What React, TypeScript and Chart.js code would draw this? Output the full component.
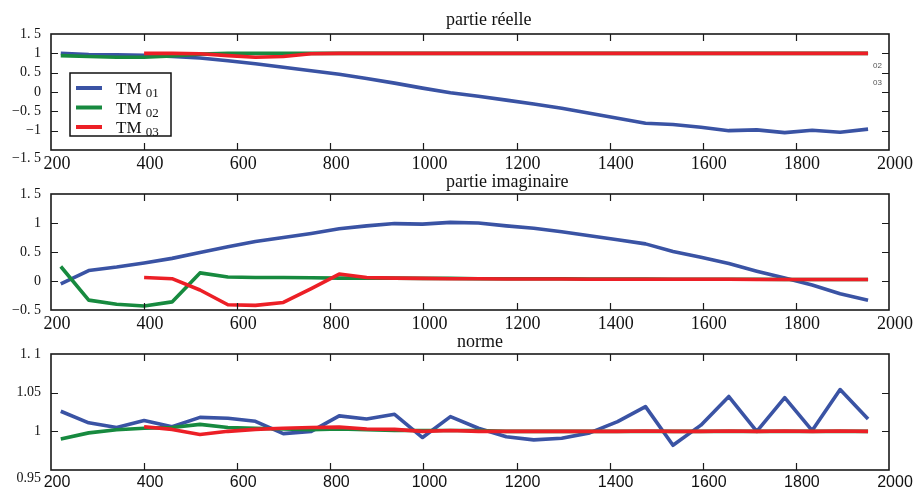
import React, { useEffect, useRef } from "react";
import { Chart, registerables } from "chart.js";
Chart.register(...registerables);

// ---------- data ----------
const X_VALUES = [221, 281, 341, 400, 460, 520, 580, 639, 699, 759, 819, 878, 938, 998, 1058, 1118, 1178, 1237, 1297, 1357, 1417, 1477, 1536, 1596, 1656, 1716, 1776, 1835, 1895, 1955];

const REAL_TM01 = [1.0, 0.97, 0.96, 0.95, 0.92, 0.88, 0.81, 0.73, 0.64, 0.55, 0.46, 0.35, 0.23, 0.1, -0.02, -0.11, -0.21, -0.31, -0.42, -0.55, -0.68, -0.81, -0.84, -0.91, -1.0, -0.98, -1.05, -0.99, -1.04, -0.96];
const REAL_TM02 = [0.94, 0.92, 0.9, 0.9, 0.93, 0.98, 1.0, 1.0, 1.0, 1.0, 1.0, 1.0, 1.0, 1.0, 1.0, 1.0, 1.0, 1.0, 1.0, 1.0, 1.0, 1.0, 1.0, 1.0, 1.0, 1.0, 1.0, 1.0, 1.0, 1.0];
const REAL_TM03 = [null, null, null, 1.0, 1.0, 0.99, 0.94, 0.9, 0.92, 0.99, 1.0, 1.0, 1.0, 1.0, 1.0, 1.0, 1.0, 1.0, 1.0, 1.0, 1.0, 1.0, 1.0, 1.0, 1.0, 1.0, 1.0, 1.0, 1.0, 1.0];

const IMAG_TM01 = [-0.05, 0.18, 0.24, 0.31, 0.39, 0.49, 0.59, 0.68, 0.75, 0.82, 0.9, 0.95, 0.99, 0.98, 1.01, 1.0, 0.95, 0.91, 0.85, 0.78, 0.71, 0.64, 0.51, 0.41, 0.3, 0.17, 0.05, -0.07, -0.22, -0.33];
const IMAG_TM02 = [0.25, -0.33, -0.4, -0.43, -0.36, 0.14, 0.07, 0.06, 0.06, 0.055, 0.05, 0.05, 0.05, 0.045, 0.045, 0.04, 0.04, 0.04, 0.04, 0.035, 0.035, 0.035, 0.03, 0.03, 0.03, 0.03, 0.025, 0.025, 0.025, 0.025];
const IMAG_TM03 = [null, null, null, 0.06, 0.04, -0.155, -0.41, -0.42, -0.37, -0.13, 0.12, 0.06, 0.05, 0.045, 0.04, 0.04, 0.035, 0.035, 0.035, 0.03, 0.03, 0.03, 0.03, 0.03, 0.03, 0.025, 0.025, 0.025, 0.025, 0.025];

const NORM_TM01 = [1.026, 1.011, 1.005, 1.014, 1.006, 1.018, 1.017, 1.013, 0.997, 1.0, 1.02, 1.016, 1.022, 0.992, 1.019, 1.004, 0.993, 0.989, 0.991, 0.998, 1.0125, 1.032, 0.982, 1.008, 1.045, 1.0, 1.0435, 1.001, 1.054, 1.016];
const NORM_TM02 = [0.99, 0.998, 1.002, 1.004, 1.005, 1.009, 1.005, 1.004, 1.003, 1.002, 1.003, 1.002, 1.001, 1.001, 1.001, 1.001, 1.0, 1.0, 1.0, 1.0, 1.0, 1.0, 1.0, 1.0, 1.0, 1.0, 1.0, 1.0, 1.0, 1.0];
const NORM_TM03 = [null, null, null, 1.006, 1.0025, 0.996, 1.0, 1.0025, 1.004, 1.005, 1.0055, 1.003, 1.0025, 1.0, 1.001, 1.0, 1.0, 1.0, 1.0, 1.0, 1.0, 1.0005, 1.0, 1.0, 1.0005, 1.0, 1.0005, 1.0, 1.0005, 1.0];

const X_TICKS = [200, 400, 600, 800, 1000, 1200, 1400, 1600, 1800, 2000];
const X_LABELS = ["200", "400", "600", "800", "1000", "1200", "1400", "1600", "1800", "2000"];

const Y_TICKS_REAL = [-1.5, -1, -0.5, 0, 0.5, 1, 1.5];
const Y_LABELS_REAL = ["\u22121. 5", "\u22121", "\u22120. 5", "0", "0. 5", "1", "1. 5"];
const Y_TICKS_IMAG = [-0.5, 0, 0.5, 1, 1.5];
const Y_LABELS_IMAG = ["\u22120. 5", "0", "0. 5", "1", "1. 5"];
const Y_TICKS_NORM = [0.95, 1, 1.05, 1.1];
const Y_LABELS_NORM = ["0.95", "1", "1.05", "1. 1"];

const SERIES_NAMES = ["TM", "TM", "TM"];
const SERIES_SUBS = ["01", "02", "03"];
const COLORS = ["#3A53A4", "#178A3F", "#EC1F26"];
const TITLES = ["partie r\u00e9elle", "partie imaginaire", "norme"];
const STRAY_LABELS = ["02", "03"];

const SERIF = "'Liberation Serif', 'Times New Roman', serif";
const SANS = "'Liberation Sans', Arial, sans-serif";

type Panel = {
  top: number;
  height: number;
  areaTop: number;
  areaBottom: number;
  yTicks: number[];
  yLabels: string[];
  shiftMin: boolean;
  series: (number | null)[][];
  title: string;
  titleX: number;
  titleY: number;
  xFont: string;
  legend: boolean;
};

const PANELS: Panel[] = [
  { top: 0, height: 178, areaTop: 34, areaBottom: 150, yTicks: Y_TICKS_REAL, yLabels: Y_LABELS_REAL, shiftMin: true, series: [REAL_TM01, REAL_TM02, REAL_TM03], title: TITLES[0], titleX: 446, titleY: 20, xFont: SERIF, legend: true },
  { top: 170, height: 168, areaTop: 24, areaBottom: 140, yTicks: Y_TICKS_IMAG, yLabels: Y_LABELS_IMAG, shiftMin: false, series: [IMAG_TM01, IMAG_TM02, IMAG_TM03], title: TITLES[1], titleX: 446, titleY: 12, xFont: SERIF, legend: false },
  { top: 330, height: 170, areaTop: 24, areaBottom: 140, yTicks: Y_TICKS_NORM, yLabels: Y_LABELS_NORM, shiftMin: true, series: [NORM_TM01, NORM_TM02, NORM_TM03], title: TITLES[2], titleX: 457, titleY: 12, xFont: SANS, legend: false },
];

const framePlugin = {
  id: "frame",
  afterDatasetsDraw(chart: any) {
    const { ctx, chartArea: a, scales } = chart;
    const xs = scales.x;
    const ys = scales.y;
    ctx.save();
    ctx.strokeStyle = "#1a1a1a";
    ctx.lineWidth = 1.6;
    ctx.strokeRect(a.left, a.top, a.right - a.left, a.bottom - a.top);
    ctx.lineWidth = 1.2;
    const L = 7;
    ctx.beginPath();
    xs.ticks.forEach((t: any) => {
      if (t.value <= xs.min || t.value >= xs.max) return;
      const p = Math.round(xs.getPixelForValue(t.value)) + 0.5;
      ctx.moveTo(p, a.top);
      ctx.lineTo(p, a.top + L);
      ctx.moveTo(p, a.bottom);
      ctx.lineTo(p, a.bottom - L);
    });
    ys.ticks.forEach((t: any) => {
      if (t.value <= ys.min + 1e-9 || t.value >= ys.max - 1e-9) return;
      const p = Math.round(ys.getPixelForValue(t.value)) + 0.5;
      ctx.moveTo(a.left, p);
      ctx.lineTo(a.left + L, p);
      ctx.moveTo(a.right, p);
      ctx.lineTo(a.right - L, p);
    });
    ctx.stroke();
    ctx.restore();
  },
};

function makeDecorPlugin(panel: Panel) {
  return {
    id: "decor",
    afterDraw(chart: any) {
      const { ctx, chartArea: a } = chart;
      ctx.save();
      // title
      ctx.fillStyle = "#111";
      ctx.font = `18px ${SERIF}`;
      ctx.textAlign = "left";
      ctx.textBaseline = "middle";
      ctx.fillText(panel.title, panel.titleX, panel.titleY);
      if (panel.legend) {
        // stray small labels near the right axis
        ctx.font = `8px ${SANS}`;
        ctx.fillStyle = "#555";
        ctx.textAlign = "left";
        ctx.fillText(STRAY_LABELS[0], a.right - 16, 66);
        ctx.fillText(STRAY_LABELS[1], a.right - 16, 83);
        // legend box
        const bx = 70, by = 73, bw = 101, bh = 63;
        ctx.fillStyle = "#fff";
        ctx.fillRect(bx, by, bw, bh);
        ctx.strokeStyle = "#111";
        ctx.lineWidth = 1.5;
        ctx.strokeRect(bx, by, bw, bh);
        const rows = [88, 107.5, 127];
        SERIES_NAMES.forEach((name, i) => {
          const cy = rows[i];
          ctx.strokeStyle = COLORS[i];
          ctx.lineWidth = 4;
          ctx.beginPath();
          ctx.moveTo(76, cy);
          ctx.lineTo(102, cy);
          ctx.stroke();
          ctx.fillStyle = "#111";
          ctx.textBaseline = "alphabetic";
          ctx.font = `17px ${SERIF}`;
          ctx.fillText(name, 116, cy + 6);
          const w = ctx.measureText(name + " ").width;
          ctx.font = `13px ${SERIF}`;
          ctx.fillText(SERIES_SUBS[i], 116 + w, cy + 9);
        });
      }
      ctx.restore();
    },
  };
}

function PanelChart({ panel }: { panel: Panel }) {
  const ref = useRef<HTMLCanvasElement | null>(null);
  useEffect(() => {
    if (!ref.current) return;
    const datasets = panel.series.map((s, i) => ({
      label: SERIES_NAMES[i] + " " + SERIES_SUBS[i],
      data: X_VALUES.map((x, j) => ({ x, y: s[j] })),
      borderColor: COLORS[i],
      backgroundColor: COLORS[i],
      borderWidth: 3.6,
      pointRadius: 0,
      pointHoverRadius: 0,
      fill: false,
      tension: 0,
      spanGaps: false,
      borderJoinStyle: "round" as const,
      order: 3 - i,
    }));
    const lastIdx = panel.yTicks.length - 1;
    const chart = new Chart(ref.current, {
      type: "line",
      data: { datasets },
      options: {
        responsive: false,
        animation: false,
        devicePixelRatio: 1,
        layout: { padding: { top: panel.areaTop, right: 31, left: 0, bottom: 0 } },
        plugins: { legend: { display: false }, tooltip: { enabled: false }, title: { display: false } },
        scales: {
          x: {
            type: "linear",
            min: 200,
            max: 2000,
            afterBuildTicks: (s: any) => {
              s.ticks = X_TICKS.map((v) => ({ value: v }));
            },
            afterFit: (s: any) => {
              s.height = panel.height - panel.areaBottom;
            },
            grid: { display: false, drawTicks: false },
            border: { display: false },
            ticks: {
              autoSkip: false,
              maxRotation: 0,
              padding: 3,
              labelOffset: 6,
              color: "#111",
              font: { family: panel.xFont, size: panel.xFont === SANS ? 16 : 18 },
              callback: (_v: any, i: number) => X_LABELS[i],
            },
          },
          y: {
            type: "linear",
            min: panel.yTicks[0],
            max: panel.yTicks[lastIdx],
            afterBuildTicks: (s: any) => {
              s.ticks = panel.yTicks.map((v) => ({ value: v }));
            },
            afterFit: (s: any) => {
              s.width = 51;
            },
            grid: { display: false, drawTicks: false },
            border: { display: false },
            ticks: {
              autoSkip: false,
              padding: 10,
              color: "#111",
              font: { family: SERIF, size: 14 },
              callback: (_v: any, i: number) =>
                i === 0 && panel.shiftMin ? ["", panel.yLabels[i]] : panel.yLabels[i],
            },
          },
        },
      } as any,
      plugins: [framePlugin, makeDecorPlugin(panel)],
    });
    return () => chart.destroy();
  }, [panel]);
  return (
    <canvas
      ref={ref}
      width={920}
      height={panel.height}
      style={{ position: "absolute", left: 0, top: panel.top, width: 920, height: panel.height }}
    />
  );
}

export default function App() {
  return (
    <div style={{ position: "fixed", left: 0, top: 0, width: 920, height: 500, background: "#fff", overflow: "hidden" }}>
      {PANELS.map((p, i) => (
        <PanelChart key={i} panel={p} />
      ))}
    </div>
  );
}
